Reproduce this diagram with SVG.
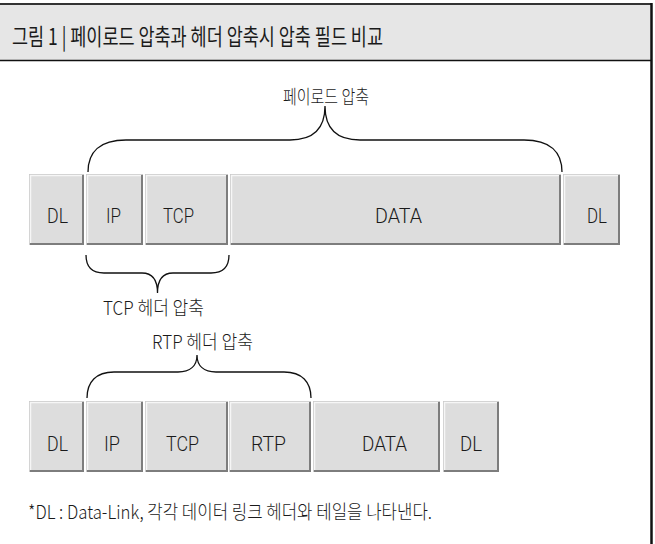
<svg xmlns="http://www.w3.org/2000/svg" width="655" height="544" viewBox="0 0 655 544">
<style>
.t{font-family:Roboto,"Liberation Sans","Noto Sans CJK KR",sans-serif;font-weight:300;font-size:20px;fill:#1a1a1a}
.k{font-family:"Noto Sans CJK KR","Liberation Sans",sans-serif;font-weight:300;font-size:19px;fill:#1a1a1a}
.box{fill:#dddddd;stroke:#c9c9c9;stroke-width:1}
.hi{stroke:#f6f6f6;stroke-width:1.5;fill:none}
.sh{stroke:#7d7d7d;stroke-width:2;fill:none}
.br{fill:none;stroke:#111;stroke-width:1.3}
</style>
<rect x="0" y="0" width="655" height="544" fill="#fff"/>
<g id="frame">
<rect x="-3" y="4" width="654.5" height="56" fill="#e6e6e6"/>
<line x1="-3" y1="4" x2="652" y2="4" stroke="#333" stroke-width="2"/>
<line x1="-3" y1="60.5" x2="651" y2="60.5" stroke="#111" stroke-width="1.5"/>
<line x1="651.5" y1="3" x2="651.5" y2="544" stroke="#111" stroke-width="2.5"/>
<text x="12" y="45" class="k" style="font-size:23px;font-weight:400" textLength="371" lengthAdjust="spacingAndGlyphs">그림 1 | 페이로드 압축과 헤더 압축시 압축 필드 비교</text>
</g>
<g id="row1">
<g id="r1-dl1"><rect class="box" x="29.5" y="174.5" width="54" height="70"/><path class="hi" d="M30.5,243 V175.5 H82.5"/><path class="sh" d="M83,175 V244 H30"/><text class="t" x="47" y="223" textLength="21" lengthAdjust="spacingAndGlyphs">DL</text></g>
<g id="r1-ip"><rect class="box" x="86.5" y="174.5" width="56" height="70"/><path class="hi" d="M87.5,243 V175.5 H141.5"/><path class="sh" d="M142,175 V244 H87"/><text class="t" x="106" y="223" textLength="15" lengthAdjust="spacingAndGlyphs">IP</text></g>
<g id="r1-tcp"><rect class="box" x="145.5" y="174.5" width="82" height="70"/><path class="hi" d="M146.5,243 V175.5 H226.5"/><path class="sh" d="M227,175 V244 H146"/><text class="t" x="163" y="223" textLength="31" lengthAdjust="spacingAndGlyphs">TCP</text></g>
<g id="r1-data"><rect class="box" x="230.5" y="174.5" width="330" height="70"/><path class="hi" d="M231.5,243 V175.5 H559.5"/><path class="sh" d="M560,175 V244 H231"/><text class="t" x="375" y="223" textLength="47" lengthAdjust="spacingAndGlyphs">DATA</text></g>
<g id="r1-dl2"><rect class="box" x="563.5" y="174.5" width="56" height="70"/><path class="hi" d="M564.5,243 V175.5 H618.5"/><path class="sh" d="M619,175 V244 H564"/><text class="t" x="587" y="223" textLength="20" lengthAdjust="spacingAndGlyphs">DL</text></g>
</g>
<g id="row2">
<g id="r2-dl1"><rect class="box" x="29.5" y="401.5" width="54" height="70"/><path class="hi" d="M30.5,470 V402.5 H82.5"/><path class="sh" d="M83,402 V471 H30"/><text class="t" x="47" y="451" textLength="21" lengthAdjust="spacingAndGlyphs">DL</text></g>
<g id="r2-ip"><rect class="box" x="86.5" y="401.5" width="56" height="70"/><path class="hi" d="M87.5,470 V402.5 H141.5"/><path class="sh" d="M142,402 V471 H87"/><text class="t" x="104" y="451" textLength="16" lengthAdjust="spacingAndGlyphs">IP</text></g>
<g id="r2-tcp"><rect class="box" x="145.5" y="401.5" width="82" height="70"/><path class="hi" d="M146.5,470 V402.5 H226.5"/><path class="sh" d="M227,402 V471 H146"/><text class="t" x="166" y="451" textLength="33" lengthAdjust="spacingAndGlyphs">TCP</text></g>
<g id="r2-rtp"><rect class="box" x="229.5" y="401.5" width="81" height="70"/><path class="hi" d="M230.5,470 V402.5 H309.5"/><path class="sh" d="M310,402 V471 H230"/><text class="t" x="251" y="451" textLength="35" lengthAdjust="spacingAndGlyphs">RTP</text></g>
<g id="r2-data"><rect class="box" x="313.5" y="401.5" width="126" height="70"/><path class="hi" d="M314.5,470 V402.5 H438.5"/><path class="sh" d="M439,402 V471 H314"/><text class="t" x="362" y="451" textLength="45" lengthAdjust="spacingAndGlyphs">DATA</text></g>
<g id="r2-dl2"><rect class="box" x="443.5" y="401.5" width="55" height="70"/><path class="hi" d="M444.5,470 V402.5 H497.5"/><path class="sh" d="M498,402 V471 H444"/><text class="t" x="460" y="451" textLength="22" lengthAdjust="spacingAndGlyphs">DL</text></g>
</g>
<g id="connectors">
<path class="br" d="M88,172 C88,152 100,140 126,140 L290,140 C314,140 325,128 325,106 C325,128 336,140 360,140 L524,140 C550,140 562,152 562,172"/>
<path class="br" d="M86,255 C86,267 92,273 104,273 L142,273 C152,273 157.5,280 157.5,293 C157.5,280 163,273 173,273 L211,273 C223,273 229,267 229,255"/>
<path class="br" d="M87,398 C87,382 96,372 114,372 L178,372 C190,372 197,366 197,355 C197,366 204,372 216,372 L284,372 C302,372 311,382 311,398"/>
</g>
<g id="labels">
<text class="k" x="283" y="104" textLength="86" lengthAdjust="spacingAndGlyphs">페이로드 압축</text>
<text class="k" x="103" y="315" textLength="101" lengthAdjust="spacingAndGlyphs">TCP 헤더 압축</text>
<text class="k" x="152" y="349" textLength="101" lengthAdjust="spacingAndGlyphs">RTP 헤더 압축</text>
<text class="k" x="28" y="519" textLength="404" lengthAdjust="spacingAndGlyphs">*DL : Data-Link, 각각 데이터 링크 헤더와 테일을 나타낸다.</text>
</g>
</svg>
